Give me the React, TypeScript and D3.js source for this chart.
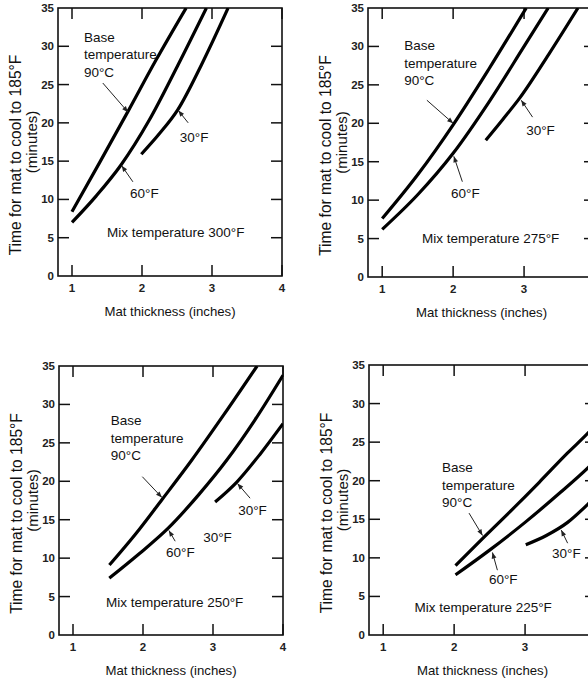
import React from 'react';
import * as d3 from 'd3';

type Pt = [number, number];

const xTicks = [1, 2, 3, 4];
const yTicks = [0, 5, 10, 15, 20, 25, 30, 35];
const mixTemps = ['300', '275', '250', '225'];

// [thickness (in), minutes]
const base300: Pt[] = [[1, 8.4], [1.4, 14.9], [1.8, 21.5], [2.2, 28.2], [2.63, 35]];
const f60_300: Pt[] = [[1, 7.0], [1.35, 10.5], [1.7, 14.5], [2.1, 20.3], [2.5, 27.3], [2.92, 35]];
const f30_300: Pt[] = [[1.99, 15.9], [2.25, 18.6], [2.51, 21.7], [2.85, 27.6], [3.23, 35]];

const base275: Pt[] = [[1, 7.6], [1.5, 13.3], [2.0, 19.8], [2.5, 27.0], [3.03, 35]];
const f60_275: Pt[] = [[1, 6.2], [1.5, 10.7], [2.0, 16.1], [2.5, 22.7], [3.0, 30.0], [3.34, 35]];
const f30_275: Pt[] = [[2.46, 17.8], [2.7, 20.5], [2.94, 23.3], [3.35, 29.0], [3.76, 35]];

const base250: Pt[] = [[1.52, 9.1], [1.9, 13.2], [2.27, 17.6], [2.7, 22.8], [3.15, 28.6], [3.63, 35]];
const f60_250: Pt[] = [[1.52, 7.4], [1.95, 10.6], [2.36, 13.9], [2.8, 18.3], [3.2, 22.8], [3.6, 28.0], [4.0, 33.8]];
const f30_250: Pt[] = [[3.03, 17.3], [3.34, 19.9], [3.67, 23.5], [4.0, 27.5]];

const base225: Pt[] = [[2.02, 9.0], [2.4, 12.5], [2.8, 16.1], [3.2, 19.8], [3.6, 23.6], [3.9, 26.3], [4.0, 27.3]];
const f60_225: Pt[] = [[2.02, 7.8], [2.5, 11.0], [3.0, 14.6], [3.5, 18.5], [3.9, 21.8], [4.0, 22.7]];
const f30_225: Pt[] = [[3.01, 11.7], [3.3, 12.9], [3.6, 14.6], [3.89, 17.0], [4.0, 18.0]];

type Note = { text: string; at: Pt; arrow?: [Pt, Pt] };

type PanelSpec = {
  left: number; right: number; top: number; bottom: number;
  mix: string;
  curves: Pt[][];
  base: { at: Pt; arrow: [Pt, Pt] };
  notes: Note[];
  mixAt: Pt;
};

const panels: PanelSpec[] = [
  {
    left: 58, right: 282, top: 8, bottom: 276, mix: mixTemps[0],
    curves: [base300, f60_300, f30_300],
    base: { at: [1.17, 30.6], arrow: [[1.44, 25.2], [1.8, 21.4]] },
    notes: [
      { text: '60°F', at: [1.83, 10.2], arrow: [[1.87, 12.3], [1.71, 14.4]] },
      { text: '30°F', at: [2.54, 17.5], arrow: [[2.66, 20.0], [2.52, 21.6]] },
    ],
    mixAt: [1.5, 5.1],
  },
  {
    left: 368, right: 595, top: 8, bottom: 277, mix: mixTemps[1],
    curves: [base275, f60_275, f30_275],
    base: { at: [1.31, 29.5], arrow: [[1.63, 23.0], [2.0, 20.0]] },
    notes: [
      { text: '60°F', at: [1.97, 10.3], arrow: [[2.13, 12.4], [2.01, 15.7]] },
      { text: '30°F', at: [3.03, 18.5], arrow: [[3.12, 20.8], [2.96, 23.0]] },
    ],
    mixAt: [1.56, 4.4],
  },
  {
    left: 59, right: 283, top: 366, bottom: 635, mix: mixTemps[2],
    curves: [base250, f60_250, f30_250],
    base: { at: [1.54, 27.3], arrow: [[1.99, 20.6], [2.27, 17.9]] },
    notes: [
      { text: '60°F', at: [2.33, 10.1], arrow: [[2.46, 12.2], [2.37, 13.6]] },
      { text: '30°F', at: [3.36, 15.6], arrow: [[3.53, 17.8], [3.35, 19.7]] },
      { text: '30°F', at: [2.86, 12.1] },
    ],
    mixAt: [1.47, 3.6],
  },
  {
    left: 369, right: 596, top: 365, bottom: 635, mix: mixTemps[3],
    curves: [base225, f60_225, f30_225],
    base: { at: [1.83, 21.1], arrow: [[2.21, 15.8], [2.4, 12.9]] },
    notes: [
      { text: '60°F', at: [2.49, 6.6], arrow: [[2.61, 8.4], [2.54, 10.7]] },
      { text: '30°F', at: [3.38, 10.0], arrow: [[3.6, 11.9], [3.51, 13.6]] },
    ],
    mixAt: [1.44, 3.0],
  },
];

const W = 588;
const H = 680;
const FONT = '"Liberation Sans", Arial, Helvetica, sans-serif';
const TICK = 11;

const Panel = ({ p, idx }: { p: PanelSpec; idx: number }) => {
  const x = d3.scaleLinear().domain([0.8, 4]).range([p.left, p.right]);
  const y = d3.scaleLinear().domain([0, 35]).range([p.bottom, p.top]);
  const line = d3.line<Pt>().x((d) => x(d[0])).y((d) => y(d[1])).curve(d3.curveMonotoneX);
  const clipId = `clip-${idx}`;
  const midY = (p.top + p.bottom) / 2;
  const midX = (p.left + p.right) / 2;
  // the right-hand panels run off the page, so drop labels that would be cut
  const xLabels = xTicks.filter((t) => x(t) < W - 6);

  const arrow = (a: [Pt, Pt], key: string) => (
    <line key={key} x1={x(a[0][0])} y1={y(a[0][1])} x2={x(a[1][0])} y2={y(a[1][1])}
      stroke="#222" strokeWidth={1} markerEnd="url(#arrowhead)" />
  );

  return (
    <g>
      <defs>
        <clipPath id={clipId}>
          <rect x={p.left} y={p.top} width={p.right - p.left} height={p.bottom - p.top} />
        </clipPath>
      </defs>

      {/* frame + inward ticks */}
      <rect x={p.left} y={p.top} width={p.right - p.left} height={p.bottom - p.top}
        fill="none" stroke="#111" strokeWidth={1.6} />
      {xTicks.map((t) => (
        <g key={`xt${t}`} stroke="#111" strokeWidth={1.5}>
          <line x1={x(t)} x2={x(t)} y1={p.bottom} y2={p.bottom - TICK} />
          <line x1={x(t)} x2={x(t)} y1={p.top} y2={p.top + TICK} />
        </g>
      ))}
      {yTicks.slice(1, -1).map((t) => (
        <g key={`yt${t}`} stroke="#111" strokeWidth={1.5}>
          <line x1={p.left} x2={p.left + TICK} y1={y(t)} y2={y(t)} />
          <line x1={p.right} x2={p.right - TICK} y1={y(t)} y2={y(t)} />
        </g>
      ))}

      {/* tick labels */}
      {xLabels.map((t) => (
        <text key={`xl${t}`} x={x(t)} y={p.bottom + 16} textAnchor="middle"
          fontSize={11.5} fontWeight="bold" fill="#222">{t}</text>
      ))}
      {yTicks.map((t) => (
        <text key={`yl${t}`} x={p.left - 4} y={y(t) + 4} textAnchor="end"
          fontSize={11.5} fontWeight="bold" fill="#222">{t}</text>
      ))}

      {/* axis titles */}
      <text x={midX} y={p.bottom + 40} textAnchor="middle" fontSize={13.2} fill="#111">
        Mat thickness (inches)
      </text>
      <text transform={`translate(${p.left - 37},${midY + 13}) rotate(-90)`}
        textAnchor="middle" fontSize={15.6} fill="#111">Time for mat to cool to 185°F</text>
      <text transform={`translate(${p.left - 21},${midY}) rotate(-90)`}
        textAnchor="middle" fontSize={15} fill="#111">(minutes)</text>

      {/* curves */}
      <g clipPath={`url(#${clipId})`}>
        {p.curves.map((c, i) => (
          <path key={i} d={line(c) || ''} fill="none" stroke="#000" strokeWidth={3.2}
            strokeLinecap="butt" />
        ))}
      </g>

      {/* annotations */}
      <text x={x(p.base.at[0])} y={y(p.base.at[1])} fontSize={13.5} fill="#111">
        <tspan x={x(p.base.at[0])}>Base</tspan>
        <tspan x={x(p.base.at[0])} dy={17.5}>temperature</tspan>
        <tspan x={x(p.base.at[0])} dy={17.5}>90°C</tspan>
      </text>
      {arrow(p.base.arrow, 'ba')}
      {p.notes.map((n, i) => (
        <g key={`n${i}`}>
          <text x={x(n.at[0])} y={y(n.at[1])} fontSize={13.5} fill="#111">{n.text}</text>
          {n.arrow ? arrow(n.arrow, `na${i}`) : null}
        </g>
      ))}
      <text x={x(p.mixAt[0])} y={y(p.mixAt[1])} fontSize={13.5} fill="#111">
        {`Mix temperature ${p.mix}°F`}
      </text>
    </g>
  );
};

export default function App() {
  return (
    <svg width={W} height={H} viewBox={`0 0 ${W} ${H}`}
      style={{ position: 'absolute', left: 0, top: 0, background: '#fff', fontFamily: FONT }}>
      <defs>
        <marker id="arrowhead" viewBox="0 0 10 10" refX={10} refY={5}
          markerWidth={8} markerHeight={6} markerUnits="userSpaceOnUse" orient="auto">
          <path d="M0,1 L10,5 L0,9 Z" fill="#222" />
        </marker>
      </defs>
      <rect width={W} height={H} fill="#fff" />
      {panels.map((p, i) => <Panel key={i} p={p} idx={i} />)}
    </svg>
  );
}
